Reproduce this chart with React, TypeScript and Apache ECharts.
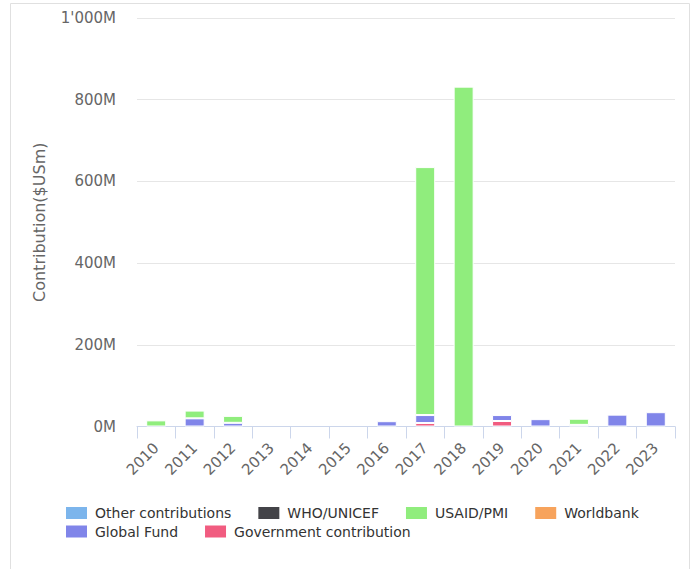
import React, { useEffect, useRef } from "react";
import * as echarts from "echarts";

// Yearly contributions, in millions of US dollars
const years = ["2010", "2011", "2012", "2013", "2014", "2015", "2016", "2017", "2018", "2019", "2020", "2021", "2022", "2023"];
const otherContributions = [0, 0, 0, 0, 0, 0, 0, 0, 0, 0, 0, 0, 0, 0];
const whoUnicef = [0, 0, 0, 0, 0, 0, 0, 0, 0, 0, 0, 0, 0, 0];
const usaidPmi = [15, 19, 17, 0, 0, 0, 0, 607, 832, 0, 0, 15, 0, 0];
const worldbank = [0, 0, 0, 0, 0, 0, 0, 0, 0, 0, 0, 0, 0, 0];
const globalFund = [0, 20, 9, 0, 0, 0, 13, 19.5, 0, 14.5, 18, 4, 29, 35];
const governmentContribution = [0, 0, 0, 0, 0, 0, 0, 8.5, 0, 13.5, 0, 0, 0, 0];

const yTicks = { min: 0, max: 1000, interval: 200 };

const seriesDefs = [
  { name: "Other contributions", data: otherContributions, color: "#7cb5ec" },
  { name: "WHO/UNICEF", data: whoUnicef, color: "#434348" },
  { name: "USAID/PMI", data: usaidPmi, color: "#90ed7d" },
  { name: "Worldbank", data: worldbank, color: "#f7a35c" },
  { name: "Global Fund", data: globalFund, color: "#8085e9" },
  { name: "Government contribution", data: governmentContribution, color: "#f15c80" },
];

const FONT = "DejaVu Sans, Lucida Grande, Arial, sans-serif";

const formatMillions = (v: number) =>
  String(v).replace(/\B(?=(\d{3})+(?!\d))/g, "'") + "M";

export default function App() {
  const ref = useRef<HTMLDivElement>(null);

  useEffect(() => {
    if (!ref.current) return;
    const chart = echarts.init(ref.current, null, { renderer: "svg" });

    const legendText = {
      fontFamily: FONT,
      fontSize: 14,
      color: "#333333",
      padding: [0, 0, 0, 2],
    };
    const legendBase = {
      left: 64,
      orient: "horizontal" as const,
      itemWidth: 23,
      itemHeight: 14,
      itemGap: 25,
      icon: "rect",
      textStyle: legendText,
      padding: 0,
    };

    // Stack bottom-up: last legend entry sits on the axis
    const stacked = [...seriesDefs].reverse().map((s) => ({
      name: s.name,
      type: "bar" as const,
      stack: "total",
      barWidth: 20,
      data: s.data.map((v) => (v === 0 ? null : v)),
      itemStyle: { color: s.color, borderColor: "#ffffff", borderWidth: 1 },
      emphasis: { disabled: true },
    }));

    chart.setOption({
      animation: false,
      backgroundColor: "#ffffff",
      textStyle: { fontFamily: FONT },
      graphic: [
        {
          type: "rect",
          shape: { x: 10.5, y: 3.5, width: 679, height: 620 },
          style: { fill: "none", stroke: "#e0e0e0", lineWidth: 1 },
          silent: true,
        },
      ],
      legend: [
        { ...legendBase, top: 505, data: seriesDefs.slice(0, 4).map((s) => s.name) },
        { ...legendBase, top: 523.5, data: seriesDefs.slice(4).map((s) => s.name) },
      ],
      grid: { left: 137, right: 21, top: 18, bottom: 142.5, containLabel: false },
      xAxis: {
        type: "category",
        data: years,
        boundaryGap: true,
        axisLine: { show: true, lineStyle: { color: "#ccd6eb", width: 1 } },
        axisTick: { show: true, length: 12, lineStyle: { color: "#ccd6eb" } },
        axisLabel: {
          rotate: 45,
          margin: 19,
          color: "#666666",
          fontFamily: FONT,
          fontSize: 15,
        },
      },
      yAxis: {
        type: "value",
        min: yTicks.min,
        max: yTicks.max,
        interval: yTicks.interval,
        name: "Contribution($USm)",
        nameLocation: "middle",
        nameGap: 90,
        nameTextStyle: { color: "#666666", fontFamily: FONT, fontSize: 16 },
        axisLine: { show: false },
        axisTick: { show: false },
        axisLabel: {
          formatter: formatMillions,
          margin: 21,
          color: "#666666",
          fontFamily: FONT,
          fontSize: 15,
        },
        splitLine: { lineStyle: { color: "#e6e6e6", width: 1 } },
      },
      series: stacked,
    });

    return () => chart.dispose();
  }, []);

  return (
    <div
      ref={ref}
      style={{ position: "absolute", left: 0, top: 0, width: 696, height: 569 }}
    />
  );
}
